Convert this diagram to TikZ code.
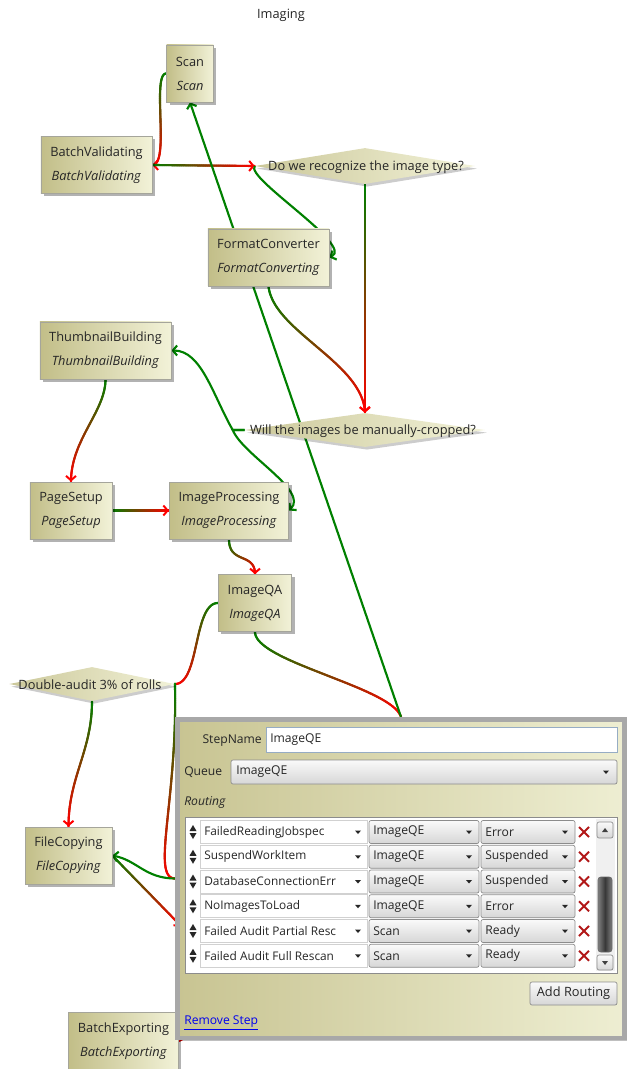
\documentclass[tikz,border=0pt]{standalone}
\usepackage{fontspec}
\setmainfont{Open Sans}
\usepackage{xcolor}
\usepackage{tikz}
\usetikzlibrary{positioning,shapes.geometric,arrows.meta,shadows,decorations.markings,backgrounds}

\definecolor{lgreen}{RGB}{0,128,0}
\definecolor{lred}{RGB}{255,0,0}
\definecolor{boxdark}{RGB}{194,190,136}
\definecolor{boxlight}{RGB}{242,242,216}
\definecolor{boxline}{RGB}{165,165,155}
\definecolor{paneldark}{RGB}{200,196,146}
\definecolor{panellight}{RGB}{238,238,210}
\definecolor{panelrim}{RGB}{168,168,168}
\definecolor{fieldrim}{RGB}{150,172,196}
\definecolor{xred}{RGB}{178,24,24}
\definecolor{linkblue}{RGB}{0,0,238}

\tikzset{
  % --- workflow steps --------------------------------------------------------
  stepbox/.style={rectangle,draw=boxline,line width=0.5pt,
                  left color=boxdark,right color=boxlight,
                  minimum height=42.75pt,inner xsep=7pt,align=center,
                  text=black!85,font=\fontsize{9.6}{18}\selectfont,
                  drop shadow={shadow xshift=2.2pt,shadow yshift=-2.2pt,
                               fill=black,opacity=0.3}},
  decision/.style={diamond,inner sep=0pt,left color=boxdark!85,right color=boxlight,
                   drop shadow={shadow xshift=1.5pt,shadow yshift=-2pt,
                                fill=black,opacity=0.2}},
  qtext/.style={inner sep=0pt,text=black!85,font=\fontsize{9.6}{11}\selectfont},
  % --- routes: green at the source, red at the target -------------------------
  flow/.style={decorate,decoration={markings,
      mark=between positions 0 and 1 step 0.5pt with {%
        \pgfmathsetmacro\flowpct{\pgfkeysvalueof{/pgf/decoration/mark info/distance from start}/\pgfdecoratedpathlength*100}%
        \draw[line width=1.6pt,line cap=round,draw=lred!\flowpct!lgreen] (-0.3pt,0pt) -- (0.3pt,0pt);},
      mark=at position 1 with {\arrow[lred,line width=1.5pt]{Straight Barb[length=3.2pt,width=7.5pt]}}}},
  back/.style={draw=lgreen,line width=1.6pt,-{Straight Barb[length=3.2pt,width=7.5pt]}},
  % --- step editor -----------------------------------------------------------
  panel/.style={rectangle,draw=panelrim,line width=3.5pt,
                left color=paneldark,right color=panellight,
                minimum width=335pt,minimum height=239pt,
                drop shadow={shadow xshift=2pt,shadow yshift=-2pt,fill=black,opacity=0.25}},
  uilab/.style={inner sep=0pt,anchor=west,text=black!85,font=\fontsize{9.1}{10}\selectfont},
  field/.style={draw=black!18,fill=white,line width=0.4pt},
  combo/.style={draw=black!45,top color=black!2,bottom color=black!16,
                rounded corners=1.5pt,line width=0.5pt},
  dropdown/.pic={\fill[black!85] (-3,-1.5) -- (3,-1.5) -- (0,2) -- cycle;},
  spinner/.pic={\fill[black!85] (-3.5,-1) -- (3.5,-1) -- (0,-7) -- cycle
                                (-3.5,1) -- (3.5,1) -- (0,7) -- cycle;},
  delx/.pic={\draw[xred,line width=1.5pt] (-5,-5) -- (5,5) (-5,5) -- (5,-5);},
}

\begin{document}
\begin{tikzpicture}[x=0.75pt,y=-0.75pt]
  \useasboundingbox (0,0) rectangle (629,1069);

  \node[qtext] (title) at (281,15) {Imaging};

  % steps
  \node[stepbox] (scan) at (190,73.5)  {Scan\\\textit{Scan}};
  \node[stepbox] (bv)   at (96.5,165)  {BatchValidating\\\textit{BatchValidating}};
  \node[stepbox] (fc)   at (268.5,257.5) {FormatConverter\\\textit{FormatConverting}};
  \node[stepbox] (tb)   at (105.5,350.5) {ThumbnailBuilding\\\textit{ThumbnailBuilding}};
  \node[stepbox] (ps)   at (71,510.5)  {PageSetup\\\textit{PageSetup}};
  \node[stepbox] (ip)   at (229,510.5) {ImageProcessing\\\textit{ImageProcessing}};
  \node[stepbox] (qa)   at (255,603)   {ImageQA\\\textit{ImageQA}};
  \node[stepbox] (cp)   at (68.5,855.5) {FileCopying\\\textit{FileCopying}};
  \node[stepbox] (be)   at (123.5,1041) {BatchExporting\\\textit{BatchExporting}};

  % decisions
  \node[decision,minimum width=165pt,minimum height=27pt] (d1) at (365,166) {};
  \node[qtext] (d1t) at (366,167) {Do we recognize the image type?};
  \node[decision,minimum width=180pt,minimum height=25.5pt] (d2) at (365,430) {};
  \node[qtext] (d2t) at (363,431) {Will the images be manually-cropped?};
  \node[decision,minimum width=124pt,minimum height=25.5pt] (d3) at (92,684) {};
  \node[qtext] (d3t) at (90,685) {Double-audit 3\% of rolls};

  % the selected step, opened as an editor
  \node[panel] (qe) at (401,878.5) {};
  \coordinate (qeleft) at (181,926);

  \begin{scope}[on background layer]
    \path[flow] (scan.west) .. controls +(-15,0) and +(18,0) .. (bv.east);
    \path[flow] (bv.east) -- (d1.west);
    \draw[back] (d1.west) .. controls +(-10,12) and +(25,-12) .. (fc.east);
    \path[flow] (d1.south) -- (d2.north);
    \path[flow] (fc.south) .. controls +(5,45) and +(-2,-50) .. (d2.north);
    \draw[back] (d2.west) -- ++(-12,0) .. controls +(-20,-35) and +(30,0) .. (tb.east);
    \draw[back] (d2.west) -- ++(-12,0) .. controls +(10,25) and +(20,-20) .. (ip.east);
    \path[flow] (tb.south) .. controls +(0,32) and +(0,-42) .. (ps.north);
    \path[flow] (ps.east) -- (ip.west);
    \path[flow] (ip.south) .. controls +(0,25) and +(0,-22) .. (qa.north);
    \path[flow] (qa.west) .. controls +(-25,0) and +(25,0) .. (d3.east);
    \path[flow] (qa.south) .. controls +(0,30) and +(-10,-30) .. (qe.north);
    \draw[back] (qe.north) -- (scan.south);
    \path[flow] (d3.south) .. controls +(0,50) and +(0,-50) .. (cp.north);
    \path[flow] (d3.east) .. controls +(3,116) and +(-25,0) .. (qe.west);
    \draw[back] (qe.west) .. controls +(-30,0) and +(25,5) .. (cp.east);
    \path[flow] (cp.east) -- (qeleft);
    \path[flow] (qe.center) .. controls +(-120,60) and +(40,-20) .. (be.east);
  \end{scope}

  % editor fields
  \node[uilab,anchor=east] (lstep) at (262,741) {StepName};
  \draw[draw=fieldrim,fill=white,line width=0.6pt] (266,727) rectangle (617,752);
  \node[uilab] (vstep) at (270,740) {ImageQE};
  \node[uilab] (lqueue) at (184,772) {Queue};
  \draw[combo] (231,760) rectangle (617,784);
  \node[uilab] (vqueue) at (236,772) {ImageQE};
  \pic at (606,772) {dropdown};
  \node[uilab] (lrout) at (184,802) {\textit{Routing}};

  % routing list
  \draw[fill=white,draw=black!45,line width=0.5pt] (185,817) rectangle (617,973);
  \fill[black!6] (596,819) rectangle (615,971);
  \draw[combo] (597,822) rectangle (613,838);
  \fill[black!75] (602,832) -- (608,832) -- (605,828) -- cycle;
  \draw[draw=black!60,rounded corners=2pt,left color=black!50,right color=black!50,
        middle color=black!78] (598,877) rectangle (612,952);
  \draw[combo] (597,955) rectangle (613,970);
  \fill[black!75] (602,961) -- (608,961) -- (605,965) -- cycle;
  \foreach \ra/\rb/\rc [count=\i from 0] in {FailedReadingJobspec/ImageQE/Error,
      SuspendWorkItem/ImageQE/Suspended, DatabaseConnectionErr/ImageQE/Suspended,
      NoImagesToLoad/ImageQE/Error, Failed Audit Partial Resc/Scan/Ready,
      Failed Audit Full Rescan/Scan/Ready}{
    \pgfmathsetmacro\ry{832+24.75*\i}
    \pic at (193,\ry) {spinner};
    \draw[field] (200,\ry-11.5) rectangle (367,\ry+11.5);
    \begin{scope}
      \clip (200,\ry-11.5) rectangle (350,\ry+11.5);
      \node[uilab,font=\fontsize{8.9}{10}\selectfont] (ra\i) at (204,\ry) {\ra};
    \end{scope}
    \pic at (358,\ry) {dropdown};
    \draw[combo] (369,\ry-11.5) rectangle (479,\ry+11.5);
    \node[uilab] (rb\i) at (373,\ry) {\rb};
    \pic at (469,\ry) {dropdown};
    \draw[combo] (481,\ry-11.5) rectangle (575,\ry+11.5);
    \node[uilab] (rc\i) at (485,\ry) {\rc};
    \pic at (565,\ry) {dropdown};
    \pic at (584,\ry) {delx};
  }

  \draw[combo] (530,982) rectangle (617,1005);
  \node[qtext] (addr) at (573.5,993.5) {Add Routing};
  \node[uilab,text=linkblue] (rmstep) at (184,1023) {\underline{Remove Step}};
\end{tikzpicture}
\end{document}
